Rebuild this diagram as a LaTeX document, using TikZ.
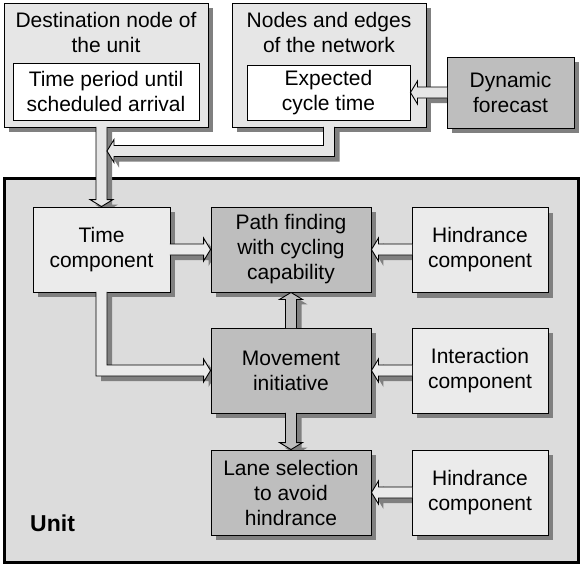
\documentclass[tikz,border=0pt]{standalone}
\usepackage{fontspec}
\setmainfont{Liberation Sans}
\usetikzlibrary{calc,shadows}
\definecolor{boxlight}{HTML}{E6E6E6}
\definecolor{boxlighter}{HTML}{EBEBEB}
\definecolor{boxdark}{HTML}{BEBEBE}
\definecolor{unitfill}{HTML}{DCDCDC}
\definecolor{shadowc}{HTML}{808080}
\pgfdeclarelayer{unitlayer}
\pgfdeclarelayer{shadowlayer}
\pgfdeclarelayer{arrowlayer}
\pgfsetlayers{unitlayer,shadowlayer,main,arrowlayer}
\newcommand\ArSw{5.5pt}
\newcommand\ArHw{11.5pt}
\newcommand\ArHl{7pt}
% straight horizontal arrow: #1 start, #2 tip, #3 signed head length, #4 offset
\newcommand\HArrowPath[4]{($(#1)+(0pt,\ArSw)+(#4)$) -- ($(#2)+(#3,\ArSw)+(#4)$) -- ($(#2)+(#3,\ArHw)+(#4)$) -- ($(#2)+(#4)$) -- ($(#2)+(#3,-\ArHw)+(#4)$) -- ($(#2)+(#3,-\ArSw)+(#4)$) -- ($(#1)+(0pt,-\ArSw)+(#4)$)}
% straight vertical arrow
\newcommand\VArrowPath[4]{($(#1)+(\ArSw,0pt)+(#4)$) -- ($(#2)+(\ArSw,#3)+(#4)$) -- ($(#2)+(\ArHw,#3)+(#4)$) -- ($(#2)+(#4)$) -- ($(#2)+(-\ArHw,#3)+(#4)$) -- ($(#2)+(-\ArSw,#3)+(#4)$) -- ($(#1)+(-\ArSw,0pt)+(#4)$)}
% down then left: #1 source anchor, #2 corner, #3 tip, #4 offset
\newcommand\DownLeftPath[4]{($(#1)+(-\ArSw,0.6pt)+(#4)$) -- ($(#2)+(-\ArSw,\ArSw)+(#4)$) -- ($(#3)+(\ArHl,\ArSw)+(#4)$) -- ($(#3)+(\ArHl,\ArHw)+(#4)$) -- ($(#3)+(#4)$) -- ($(#3)+(\ArHl,-\ArHw)+(#4)$) -- ($(#3)+(\ArHl,-\ArSw)+(#4)$) -- ($(#2)+(\ArSw,-\ArSw)+(#4)$) -- ($(#1)+(\ArSw,0.6pt)+(#4)$)}
% down then right
\newcommand\DownRightPath[4]{($(#1)+(-\ArSw,0.6pt)+(#4)$) -- ($(#2)+(-\ArSw,-\ArSw)+(#4)$) -- ($(#3)+(-\ArHl,-\ArSw)+(#4)$) -- ($(#3)+(-\ArHl,-\ArHw)+(#4)$) -- ($(#3)+(#4)$) -- ($(#3)+(-\ArHl,\ArHw)+(#4)$) -- ($(#3)+(-\ArHl,\ArSw)+(#4)$) -- ($(#2)+(\ArSw,\ArSw)+(#4)$) -- ($(#1)+(\ArSw,0.6pt)+(#4)$)}
\newcommand\HArrow[4]{%
  \begin{pgfonlayer}{shadowlayer}\fill[shadowc] \HArrowPath{#1}{#2}{#3}{5pt,-5pt} -- cycle;\end{pgfonlayer}
  \begin{pgfonlayer}{arrowlayer}\filldraw[arrowline,fill=#4] \HArrowPath{#1}{#2}{#3}{0pt,0pt};\end{pgfonlayer}}
\newcommand\VArrow[4]{%
  \begin{pgfonlayer}{shadowlayer}\fill[shadowc] \VArrowPath{#1}{#2}{#3}{5pt,-5pt} -- cycle;\end{pgfonlayer}
  \begin{pgfonlayer}{arrowlayer}\filldraw[arrowline,fill=#4] \VArrowPath{#1}{#2}{#3}{0pt,0pt};\end{pgfonlayer}}
\begin{document}
\begin{tikzpicture}[x=1pt,y=-1pt,
  txt/.style={font=\fontsize{21}{25}\selectfont, align=center, inner sep=0pt},
  basebox/.style={txt, draw=black, line width=0.9pt},
  shad/.style={drop shadow={shadow xshift=5pt,shadow yshift=-5pt,fill=shadowc,opacity=1}},
  topbox/.style={basebox, fill=boxlight, shad},
  whitebox/.style={basebox, fill=white},
  darkbox/.style={basebox, fill=boxdark, shad, minimum width=160pt, minimum height=85pt},
  lightbox/.style={basebox, fill=boxlighter, shad, minimum width=137pt, minimum height=85pt},
  unitbox/.style={draw=black, line width=3pt, fill=unitfill, inner sep=0pt},
  arrowline/.style={draw=black, line width=0.9pt, line join=miter}]
\useasboundingbox (0,0) rectangle (581,566);
% unit container
\begin{pgfonlayer}{unitlayer}
\fill[white] (0,0) rectangle (581,566);
\node[unitbox, minimum width=574pt, minimum height=384pt] (unit) at (291,370) {};
\end{pgfonlayer}
\node[txt, font=\fontsize{23}{27}\selectfont\bfseries, anchor=base west] (unitlbl) at (30,531) {Unit};
% top boxes
\node[topbox, minimum width=204pt, minimum height=124pt] (dest) at (106,65) {};
\node[txt] (desttxt) at (106,32) {Destination node of\\the unit};
\node[whitebox, minimum width=186pt, minimum height=57pt] (period) at (106,91.5) {Time period until\\scheduled arrival};
\node[topbox, minimum width=194pt, minimum height=124pt] (net) at (329,65) {};
\node[txt] (nettxt) at (329,32) {Nodes and edges\\of the network};
\node[whitebox, minimum width=163pt, minimum height=55pt] (exp) at (328.5,92.5) {Expected\\cycle time};
\node[darkbox, minimum width=127pt, minimum height=71pt] (dyn) at (510.5,92.5) {Dynamic\\forecast};
% unit components
\node[lightbox] (time) at (101.5,249.5) {Time\\component};
\node[darkbox] (path) at (291,249.5) {Path finding\\with cycling\\capability};
\node[lightbox, minimum width=136pt] (hind1) at (480,250) {Hindrance\\component};
\node[darkbox] (move) at (291,370.5) {Movement\\initiative};
\node[lightbox, minimum width=136pt] (inter) at (480,370.5) {Interaction\\component};
\node[darkbox] (lane) at (291,492.5) {Lane selection\\to avoid\\hindrance};
\node[lightbox, minimum width=136pt] (hind2) at (480,492.5) {Hindrance\\component};
% arrows
\coordinate (a1s) at ($(time.north |- dest.south)+(0pt,0.6pt)$);
\VArrow{a1s}{time.north}{7pt}{boxlight}
\coordinate (row1) at (0,151);
\coordinate (a2c) at (net.south |- row1);
\coordinate (a2t) at ($(time.north |- row1)+(\ArSw,0pt)$);
\begin{pgfonlayer}{shadowlayer}\fill[shadowc] \DownLeftPath{net.south}{a2c}{a2t}{5pt,-5pt} -- cycle;\end{pgfonlayer}
\begin{pgfonlayer}{arrowlayer}\filldraw[arrowline,fill=boxlight] \DownLeftPath{net.south}{a2c}{a2t}{0pt,0pt};\end{pgfonlayer}
\coordinate (a3s) at ($(dyn.west |- exp.east)+(0.6pt,0pt)$);
\HArrow{a3s}{exp.east}{7pt}{boxlight}
\coordinate (a4s) at ($(time.east |- path.west)+(-0.6pt,0pt)$);
\HArrow{a4s}{path.west}{-7pt}{boxlighter}
\coordinate (a5c) at (time.south |- move.west);
\begin{pgfonlayer}{shadowlayer}\fill[shadowc] \DownRightPath{time.south}{a5c}{move.west}{5pt,-5pt} -- cycle;\end{pgfonlayer}
\begin{pgfonlayer}{arrowlayer}\filldraw[arrowline,fill=boxlighter] \DownRightPath{time.south}{a5c}{move.west}{0pt,0pt};\end{pgfonlayer}
\coordinate (a6s) at ($(path.south |- move.north)+(0pt,-0.6pt)$);
\VArrow{a6s}{path.south}{-7pt}{boxdark}
\coordinate (a7s) at ($(lane.north |- move.south)+(0pt,0.6pt)$);
\VArrow{a7s}{lane.north}{7pt}{boxdark}
\coordinate (a8s) at ($(hind1.west |- path.east)+(0.6pt,0pt)$);
\HArrow{a8s}{path.east}{7pt}{boxlighter}
\coordinate (a9s) at ($(inter.west |- move.east)+(0.6pt,0pt)$);
\HArrow{a9s}{move.east}{7pt}{boxlighter}
\coordinate (a10s) at ($(hind2.west |- lane.east)+(0.6pt,0pt)$);
\HArrow{a10s}{lane.east}{7pt}{boxlighter}
\end{tikzpicture}
\end{document}
